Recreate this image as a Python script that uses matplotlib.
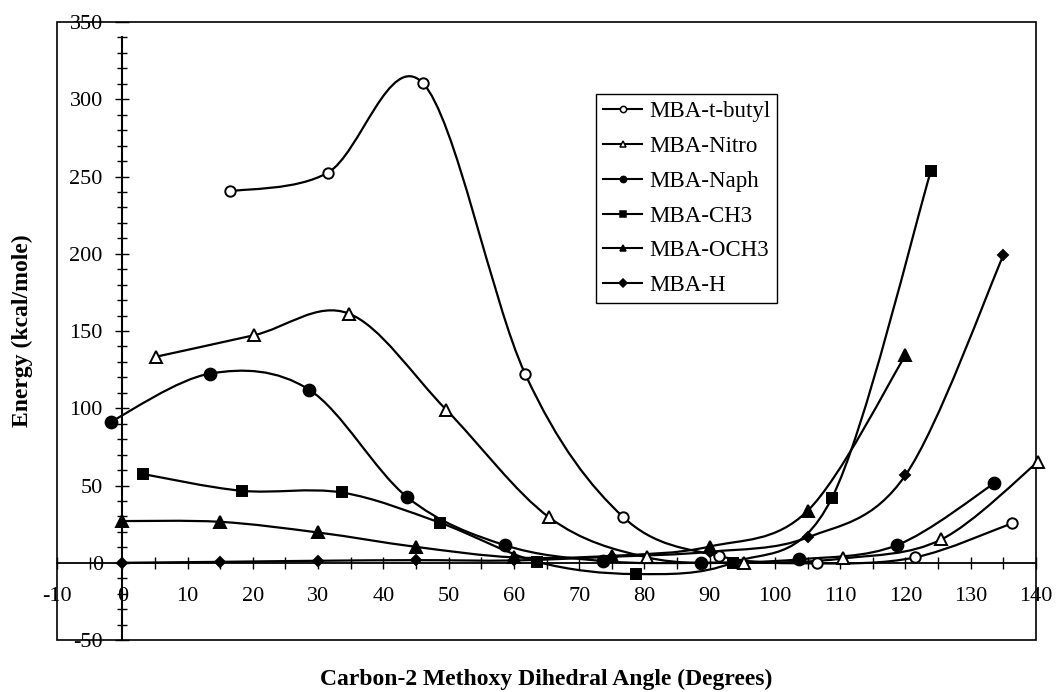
import numpy as np
import matplotlib.pyplot as plt
from matplotlib.path import Path
from matplotlib.patches import PathPatch, Rectangle
from matplotlib.lines import Line2D
from matplotlib.ticker import MultipleLocator

plt.rcParams['font.family'] = ['Liberation Serif', 'DejaVu Serif']
plt.rcParams['axes.unicode_minus'] = False

# data (angle in degrees, energy in kcal/mole)
butyl_x = [16.5, 31.5, 46.0, 61.7, 76.7, 91.5, 106.4, 121.5, 136.3]
butyl_y = [240.4, 252.5, 310.7, 122.5, 29.8, 4.3, -0.4, 3.5, 25.5]

nitro_x = [5.1, 20.2, 34.7, 49.6, 65.4, 80.4, 95.3, 110.5, 125.5, 140.3]
nitro_y = [133.3, 147.3, 161.3, 99.2, 29.4, 3.5, 0.0, 2.8, 15.1, 65.3]

naph_x = [-1.8, 13.5, 28.6, 43.7, 58.6, 73.7, 88.7, 103.7, 118.7, 133.6]
naph_y = [91.2, 122.5, 112.1, 42.3, 11.4, 1.1, 0.0, 2.2, 11.4, 51.4]

ch3_x = [3.2, 18.3, 33.6, 48.7, 63.6, 78.7, 93.5, 108.7, 123.9]
ch3_y = [57.4, 46.6, 45.5, 25.9, 0.6, -7.3, 0.0, 41.7, 253.6]

och3_x = [0, 15, 30, 45, 60, 75, 90, 105, 120]
och3_y = [27.0, 26.5, 19.6, 10.3, 3.5, 4.5, 10.5, 33.6, 134.3]

h_x = [0, 15, 30, 45, 60, 75, 90, 105, 120, 135]
h_y = [0.0, 0.6, 1.3, 1.7, 1.5, 3.9, 7.1, 16.4, 56.7, 199.0]

labels = ["MBA-t-butyl", "MBA-Nitro", "MBA-Naph", "MBA-CH3", "MBA-OCH3", "MBA-H"]


def smooth_path(xs, ys):
    # excel-like smoothed line: bezier segments through the points
    p = np.column_stack([xs, ys]).astype(float)
    n = len(p)
    verts = [p[0]]
    codes = [Path.MOVETO]
    for i in range(n - 1):
        p0 = p[i - 1] if i > 0 else p[i]
        p3 = p[i + 2] if i + 2 < n else p[i + 1]
        c1 = p[i] + (p[i + 1] - p0) / 6
        c2 = p[i + 1] - (p3 - p[i]) / 6
        verts += [c1, c2, p[i + 1]]
        codes += [Path.CURVE4] * 3
    return Path(verts, codes)


fig = plt.figure(figsize=(10.58, 6.92), dpi=100)
ax = fig.add_axes([0.0539, 0.0751, 0.9253, 0.8931])
ax.set_xlim(-10, 140)
ax.set_ylim(-50, 350)

series = [
    (butyl_x, butyl_y, "o", "white", 7.5),
    (nitro_x, nitro_y, "^", "white", 8),
    (naph_x, naph_y, "o", "black", 8.5),
    (ch3_x, ch3_y, "s", "black", 7.5),
    (och3_x, och3_y, "^", "black", 8.5),
    (h_x, h_y, "D", "black", 5.5),
]

handles = []
for (xs, ys, m, fc, ms), lab in zip(series, labels):
    patch = PathPatch(smooth_path(xs, ys), facecolor="none", edgecolor="black",
                      lw=1.6, clip_on=False, zorder=3)
    ax.add_patch(patch)
    ax.plot(xs, ys, linestyle="none", marker=m, ms=ms, mfc=fc, mec="black",
            mew=1.4, clip_on=False, zorder=4)
    handles.append(Line2D([], [], color="black", lw=1.5, marker=m, ms=4.5,
                          mfc=fc, mec="black", mew=1.1, label=lab))

# axes crossing at zero, with an outer frame
ax.spines["left"].set_position(("data", 0))
ax.spines["bottom"].set_position(("data", 0))
ax.spines["left"].set_bounds(-50, 340)
ax.spines["left"].set_linewidth(1.5)
ax.spines["bottom"].set_linewidth(1.3)
ax.spines["top"].set_visible(False)
ax.spines["right"].set_visible(False)
ax.add_patch(Rectangle((0, 0), 1, 1, transform=ax.transAxes, fill=False,
                       lw=1.2, edgecolor="black", clip_on=False, zorder=2))

ax.set_xticks(np.arange(-10, 141, 10))
ax.xaxis.set_minor_locator(MultipleLocator(5))
ax.set_yticks(np.arange(-50, 351, 50))
ax.yaxis.set_minor_locator(MultipleLocator(10))
ax.tick_params(axis="x", which="both", direction="inout", length=9, width=1,
               pad=13, labelsize=16)
ax.tick_params(axis="y", which="major", direction="inout", length=10, width=1,
               pad=9, labelsize=16)
ax.tick_params(axis="y", which="minor", direction="inout", length=7, width=1)

ax.set_xlabel("Carbon-2 Methoxy Dihedral Angle (Degrees)", fontsize=17,
              fontweight="bold")
ax.xaxis.set_label_coords(0.5, -0.063)
ax.xaxis.label.set_va("center")
ax.set_ylabel("Energy (kcal/mole)", fontsize=17, fontweight="bold")
ax.yaxis.set_label_coords(-0.0357, 0.5)
ax.yaxis.label.set_va("center")

leg = ax.legend(handles=handles, loc="upper left", bbox_to_anchor=(0.551, 0.883),
                fontsize=16.5, frameon=True, fancybox=False, edgecolor="black",
                framealpha=1, handlelength=1.7, handletextpad=0.3,
                labelspacing=0.6, borderpad=0.3, borderaxespad=0)
leg.get_frame().set_linewidth(1.0)

plt.savefig("out.png", dpi=100)
